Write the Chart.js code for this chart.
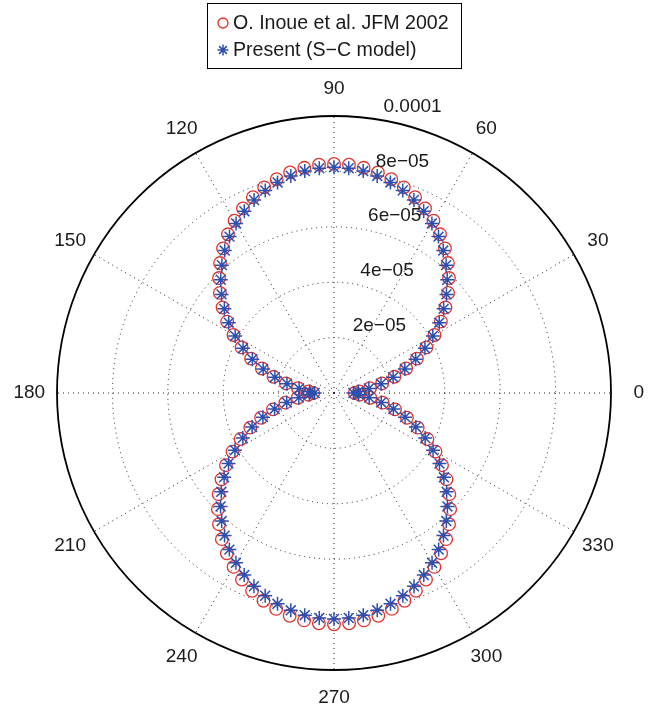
<!DOCTYPE html>
<html>
<head>
<meta charset="utf-8" />
<title>Directivity pattern</title>
<script src="https://cdn.jsdelivr.net/npm/chart.js"></script>
<style>
  body { margin: 0; background: #ffffff; }
  .chart-box { position: relative; width: 658px; height: 706px; }
</style>
</head>
<body>
<div class="chart-box"><canvas id="polarChart"></canvas></div>
<script>
  // polar angle of every sample, degrees, counter-clockwise from 0
  const angles = [
    0, 3.75, 7.5, 11.25, 15, 18.75, 22.5, 26.25,
    30, 33.75, 37.5, 41.25, 45, 48.75, 52.5, 56.25,
    60, 63.75, 67.5, 71.25, 75, 78.75, 82.5, 86.25,
    90, 93.75, 97.5, 101.25, 105, 108.75, 112.5, 116.25,
    120, 123.75, 127.5, 131.25, 135, 138.75, 142.5, 146.25,
    150, 153.75, 157.5, 161.25, 165, 168.75, 172.5, 176.25,
    180, 183.75, 187.5, 191.25, 195, 198.75, 202.5, 206.25,
    210, 213.75, 217.5, 221.25, 225, 228.75, 232.5, 236.25,
    240, 243.75, 247.5, 251.25, 255, 258.75, 262.5, 266.25,
    270, 273.75, 277.5, 281.25, 285, 288.75, 292.5, 296.25,
    300, 303.75, 307.5, 311.25, 315, 318.75, 322.5, 326.25,
    330, 333.75, 337.5, 341.25, 345, 348.75, 352.5, 356.25
  ];

  // radius, in units of 1e-05
  const inoue = [
    0.75, 0.92, 1.31, 1.77, 2.26, 2.75, 3.24, 3.72,
    4.19, 4.64, 5.07, 5.48, 5.87, 6.24, 6.58, 6.89,
    7.18, 7.43, 7.65, 7.84, 7.99, 8.12, 8.20, 8.26,
    8.27, 8.26, 8.20, 8.12, 7.99, 7.84, 7.65, 7.43,
    7.18, 6.89, 6.58, 6.24, 5.87, 5.48, 5.07, 4.64,
    4.19, 3.72, 3.24, 2.75, 2.26, 1.77, 1.31, 0.92,
    0.75, 0.93, 1.32, 1.79, 2.28, 2.78, 3.27, 3.76,
    4.23, 4.69, 5.12, 5.54, 5.93, 6.30, 6.65, 6.96,
    7.25, 7.51, 7.73, 7.92, 8.07, 8.20, 8.28, 8.33,
    8.35, 8.33, 8.28, 8.20, 8.07, 7.92, 7.73, 7.51,
    7.25, 6.96, 6.65, 6.30, 5.93, 5.54, 5.12, 4.69,
    4.23, 3.76, 3.27, 2.78, 2.28, 1.79, 1.32, 0.93
  ];
  const present = [
    0.70, 0.88, 1.27, 1.73, 2.21, 2.70, 3.19, 3.66,
    4.12, 4.57, 4.99, 5.40, 5.78, 6.14, 6.48, 6.79,
    7.07, 7.32, 7.54, 7.72, 7.87, 7.99, 8.08, 8.13,
    8.15, 8.13, 8.08, 7.99, 7.87, 7.72, 7.54, 7.32,
    7.07, 6.79, 6.48, 6.14, 5.78, 5.40, 4.99, 4.57,
    4.12, 3.66, 3.19, 2.70, 2.21, 1.73, 1.27, 0.88,
    0.70, 0.89, 1.28, 1.74, 2.22, 2.71, 3.20, 3.67,
    4.13, 4.58, 5.00, 5.41, 5.79, 6.15, 6.49, 6.80,
    7.08, 7.33, 7.55, 7.73, 7.88, 8.00, 8.09, 8.14,
    8.16, 8.14, 8.09, 8.00, 7.88, 7.73, 7.55, 7.33,
    7.08, 6.80, 6.49, 6.15, 5.79, 5.41, 5.00, 4.58,
    4.13, 3.67, 3.20, 2.71, 2.22, 1.74, 1.28, 0.89
  ];

  const ringValues = [2, 4, 6, 8, 10];
  const ringLabels = ['2e\u221205', '4e\u221205', '6e\u221205', '8e\u221205', '0.0001'];
  const spokeAngles = [0, 30, 60, 90, 120, 150, 180, 210, 240, 270, 300, 330];

  const RED = '#e2322d';
  const BLUE = '#2d4fb0';
  const FONT = '19px "Liberation Sans", Arial, sans-serif';
  const LEGEND_FONT = '19.6px "Liberation Sans", Arial, sans-serif';

  // radar goes clockwise, so walk the samples backwards to get counter-clockwise angles
  const order = angles.map((a, j) => (angles.length - j) % angles.length);
  const labels = order.map(k => angles[k]);

  // axis texts + boxed legend, placed the way matlab's polar() does it
  const polarText = {
    id: 'polarText',
    afterDraw(chart) {
      const r = chart.scales.r;
      const c = chart.ctx;
      c.save();
      c.fillStyle = '#1a1a1a';
      c.font = FONT;

      c.textAlign = 'center';
      c.textBaseline = 'middle';
      spokeAngles.forEach(a => {
        const p = r.getPointPosition(labels.indexOf(a), r.drawingArea * 1.1);
        c.fillText(String(a), p.x, p.y);
      });

      c.textAlign = 'left';
      c.textBaseline = 'bottom';
      const t = 82 * Math.PI / 180;
      const indent = c.measureText('  ').width;
      ringValues.forEach((v, i) => {
        const d = r.getDistanceFromCenterForValue(v + 0.1);
        c.fillText(ringLabels[i], r.xCenter + d * Math.cos(t) + indent, r.yCenter - d * Math.sin(t));
      });

      // legend
      c.fillStyle = '#ffffff';
      c.fillRect(207.5, 3.5, 254, 65);
      c.strokeStyle = '#000000';
      c.lineWidth = 1;
      c.strokeRect(207.5, 3.5, 254, 65);
      c.font = LEGEND_FONT;
      const ds = chart.data.datasets;
      const rows = [ds[1], ds[0]];
      rows.forEach((d, i) => {
        const y = 23 + i * 27;
        const x = 223;
        c.strokeStyle = d.pointBorderColor;
        c.lineWidth = d.pointBorderWidth;
        c.beginPath();
        if (d.pointStyle === 'circle') {
          c.arc(x, y, 5, 0, Math.PI * 2);
        } else {
          const s = 5.5, q = s * Math.SQRT1_2;
          c.moveTo(x - s, y); c.lineTo(x + s, y);
          c.moveTo(x, y - s); c.lineTo(x, y + s);
          c.moveTo(x - q, y - q); c.lineTo(x + q, y + q);
          c.moveTo(x - q, y + q); c.lineTo(x + q, y - q);
        }
        c.stroke();
        c.fillStyle = '#1a1a1a';
        c.textBaseline = 'middle';
        c.fillText(d.label, 233, y + 1);
      });
      c.restore();
    }
  };

  const ctx = document.getElementById('polarChart').getContext('2d');
  new Chart(ctx, {
    type: 'radar',
    data: {
      labels: labels,
      datasets: [
        {
          label: 'Present (S\u2212C model)',
          data: order.map(k => present[k]),
          showLine: false,
          fill: false,
          pointStyle: 'star',
          pointRadius: 7,
          pointBorderColor: BLUE,
          pointBackgroundColor: BLUE,
          pointBorderWidth: 1.5,
          order: 0
        },
        {
          label: 'O. Inoue et al. JFM 2002',
          data: order.map(k => inoue[k]),
          showLine: false,
          fill: false,
          pointStyle: 'circle',
          pointRadius: 6.3,
          pointBorderColor: RED,
          pointBackgroundColor: 'rgba(0,0,0,0)',
          pointBorderWidth: 1.3,
          order: 1
        }
      ]
    },
    options: {
      responsive: true,
      maintainAspectRatio: false,
      animation: false,
      events: [],
      layout: { padding: { left: 57, right: 47, top: 116, bottom: 36 } },
      plugins: {
        legend: { display: false },
        tooltip: { enabled: false }
      },
      scales: {
        r: {
          min: 0,
          max: 10,
          startAngle: 90,
          ticks: { display: false, stepSize: 2 },
          pointLabels: { display: false },
          grid: {
            circular: true,
            color: c => (c.tick && c.tick.value === 10 ? '#000000' : '#222222'),
            lineWidth: c => (c.tick && c.tick.value === 10 ? 1.8 : 1)
          },
          border: {
            dash: c => (c.tick && c.tick.value === 10 ? [] : [1, 4])
          },
          angleLines: {
            color: '#222222',
            lineWidth: c => (c.index % 8 === 0 ? 1 : 0),
            borderDash: [1, 4]
          }
        }
      }
    },
    plugins: [polarText]
  });
</script>
</body>
</html>
